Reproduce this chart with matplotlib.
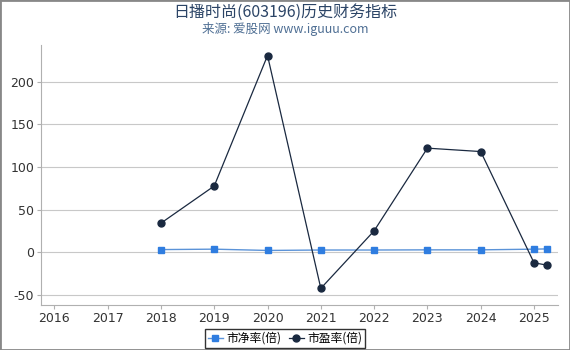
import matplotlib
matplotlib.use("Agg")
import matplotlib.pyplot as plt

plt.rcParams['font.family'] = ['DejaVu Sans', 'Noto Sans CJK SC']
plt.rcParams['axes.unicode_minus'] = False

years = [2018, 2019, 2020, 2021, 2022, 2023, 2024, 2025, 2025.25]
pb = [3.0, 3.5, 2.0, 2.5, 2.5, 2.7, 2.7, 3.5, 3.8]
pe = [34, 77.6, 230.6, -42.5, 25, 122, 118, -12.5, -15.3]
xticks = [2016, 2017, 2018, 2019, 2020, 2021, 2022, 2023, 2024, 2025]

fig = plt.figure(figsize=(5.7, 3.5), dpi=100)
ax = fig.add_axes([41 / 570, 45 / 350, (558 - 41) / 570, (305 - 45) / 350])

ax.plot(years, pb, color="#5b93d8", marker="s", markersize=5, markerfacecolor="#2f7de0",
        markeredgecolor="#2f7de0", linewidth=1, label="市净率(倍)")
ax.plot(years, pe, color="#1a2940", marker="o", markersize=5, linewidth=0.9,
        label="市盈率(倍)")

ax.set_xlim(2015.75, 2025.45)
ax.set_ylim(-62, 243)
ax.set_xticks(xticks)
ax.set_yticks([-50, 0, 50, 100, 150, 200])
ax.grid(axis="y", color="#c8c8c8", linewidth=0.8)
ax.set_axisbelow(True)
for s in ["top", "right"]:
    ax.spines[s].set_visible(False)
for s in ["left", "bottom"]:
    ax.spines[s].set_color("#b0b0b0")
ax.tick_params(axis="both", colors="#b0b0b0", labelcolor="#333333", labelsize=9,
               length=3, pad=2)

cjk = ['Noto Sans CJK SC', 'DejaVu Sans']
fig.text(0.5, 0.965, "日播时尚(603196)历史财务指标", ha="center", va="center",
         fontsize=11.5, color="#2b4466", family=cjk)
fig.text(0.5, 0.918, "来源: 爱股网 www.iguuu.com", ha="center", va="center",
         fontsize=9, color="#4f6f94", family=cjk)

leg = fig.legend(loc="lower center", bbox_to_anchor=(0.5, 0.0), ncol=2,
                 prop={"family": cjk, "size": 8.5},
                 frameon=True, fancybox=False, edgecolor="black", handlelength=1.3,
                 handletextpad=0.3, columnspacing=0.6, borderpad=0.25,
                 borderaxespad=0.2)
leg.get_frame().set_linewidth(1)

fig.patches.append(plt.Rectangle((0, 0), 1, 1, transform=fig.transFigure, fill=False,
                                 edgecolor="#888888", linewidth=2))

fig.savefig("out.png", dpi=100)
